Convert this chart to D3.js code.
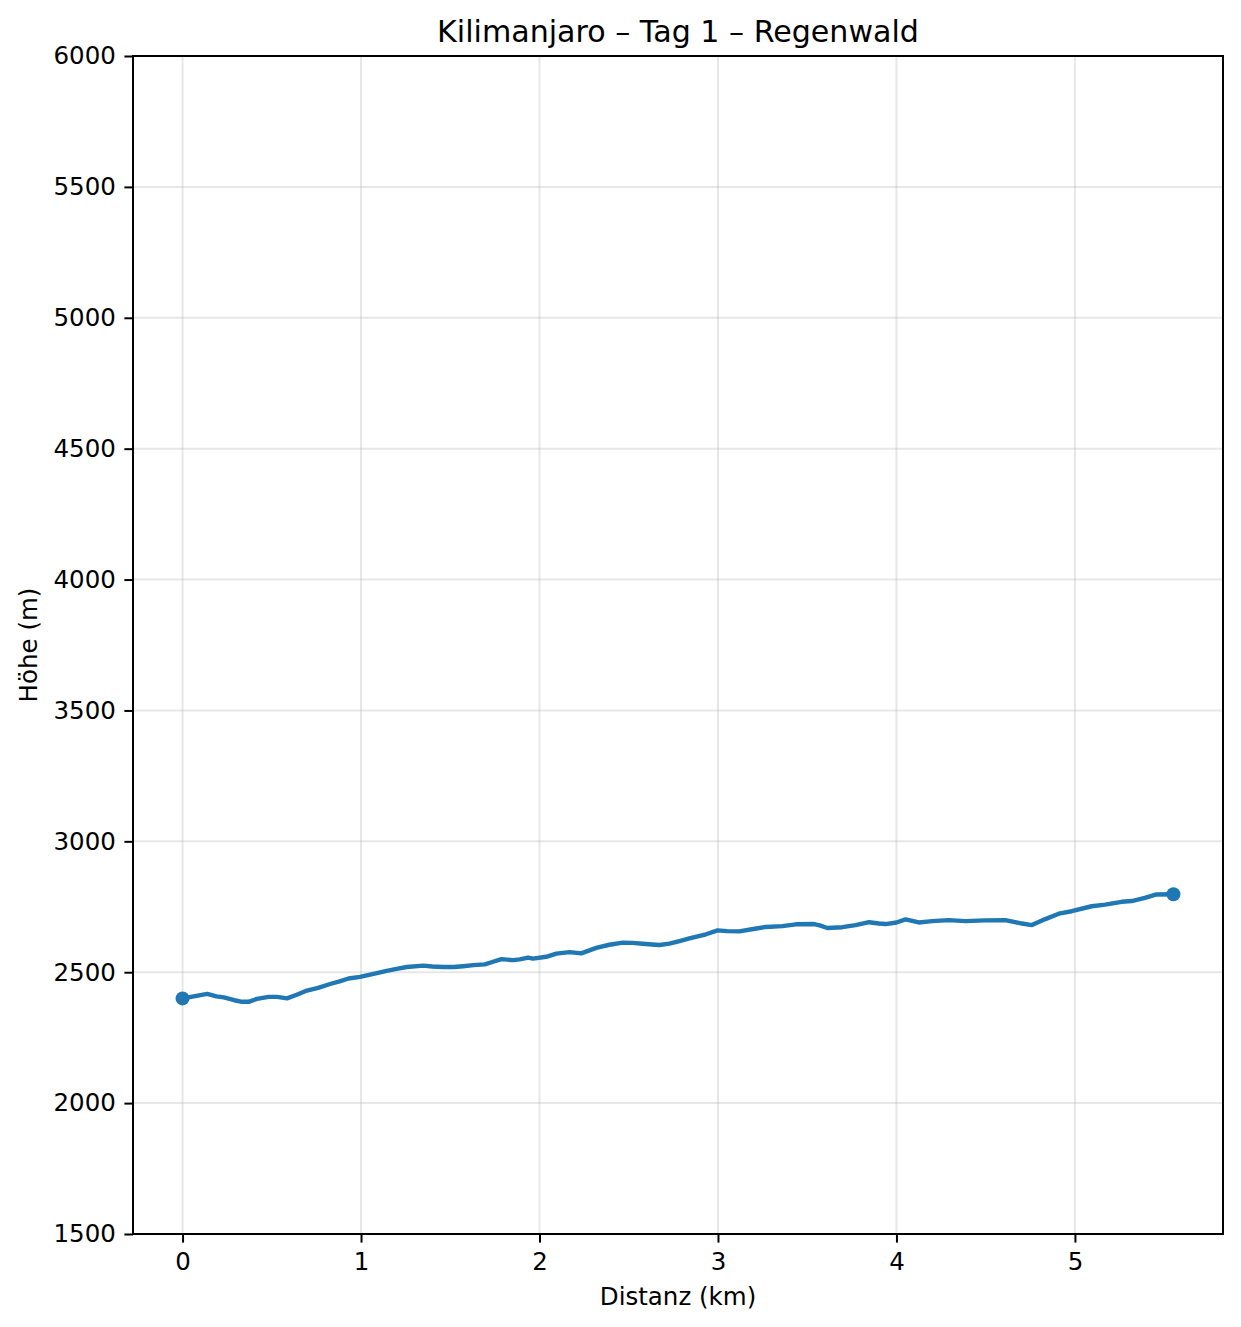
<!DOCTYPE html>
<html>
<head>
<meta charset="utf-8">
<script src="https://cdn.jsdelivr.net/npm/d3@7"></script>
<style>
  body { margin: 0; background: #fff; }
  text { font-family: "DejaVu Sans", sans-serif; fill: #000; }
</style>
</head>
<body>
<div id="chart"></div>
<script>
// distance along the trail (km) and elevation (m)
var distKm = [0.000, 0.070, 0.138, 0.190, 0.231, 0.290, 0.334, 0.370, 0.417, 0.482,
    0.530, 0.585, 0.640, 0.697, 0.760, 0.827, 0.880, 0.930, 0.995, 1.070,
    1.144, 1.200, 1.256, 1.349, 1.400, 1.460, 1.520, 1.572, 1.630, 1.694,
    1.740, 1.787, 1.852, 1.889, 1.936, 1.964, 2.038, 2.094, 2.169, 2.234,
    2.318, 2.392, 2.467, 2.520, 2.579, 2.630, 2.672, 2.728, 2.790, 2.840,
    2.933, 2.998, 3.050, 3.119, 3.190, 3.268, 3.361, 3.436, 3.538, 3.570,
    3.613, 3.697, 3.771, 3.846, 3.902, 3.939, 4.000, 4.051, 4.125, 4.200,
    4.293, 4.386, 4.498, 4.610, 4.703, 4.759, 4.834, 4.917, 4.982, 5.094,
    5.169, 5.262, 5.318, 5.392, 5.457, 5.552];
var elevM = [2400, 2409, 2417, 2408, 2404, 2393, 2387, 2387, 2398, 2406,
    2406, 2400, 2414, 2430, 2440, 2455, 2465, 2476, 2482, 2494,
    2505, 2513, 2520, 2525, 2522, 2520, 2520, 2523, 2527, 2530,
    2540, 2550, 2546, 2549, 2556, 2552, 2559, 2571, 2577, 2572,
    2593, 2605, 2613, 2612, 2609, 2606, 2604, 2609, 2620, 2629,
    2645, 2660, 2657, 2656, 2664, 2673, 2676, 2683, 2684, 2679,
    2669, 2672, 2680, 2691, 2686, 2684, 2690, 2702, 2690, 2695,
    2699, 2695, 2698, 2699, 2686, 2680, 2703, 2725, 2733, 2752,
    2758, 2769, 2772, 2784, 2797, 2798];
var xTicks = [0, 1, 2, 3, 4, 5];
var yTicks = [1500, 2000, 2500, 3000, 3500, 4000, 4500, 5000, 5500, 6000];

var chartTitle = "Kilimanjaro \u2013 Tag 1 \u2013 Regenwald";
var xLabel = "Distanz (km)";
var yLabel = "H\u00f6he (m)";

var svgWidth = 1241;
var svgHeight = 1327;
var margin = { top: 56, right: 18, bottom: 93, left: 133 };
var width = svgWidth - margin.left - margin.right;
var height = svgHeight - margin.top - margin.bottom;

var points = distKm.map(function(d, i) { return { km: d, elev: elevM[i] }; });

var svg = d3.select("#chart")
    .append("svg")
    .attr("width", svgWidth)
    .attr("height", svgHeight);

var chartGroup = svg.append("g")
    .attr("transform", `translate(${margin.left}, ${margin.top})`);

// matplotlib-like 5% margin on x
var xMax = d3.max(distKm);
var pad = xMax * 0.05;
var xScale = d3.scaleLinear().domain([-pad, xMax + pad]).range([0, width]);
var yScale = d3.scaleLinear().domain([1500, 6000]).range([height, 0]);

// grid
chartGroup.append("g")
    .selectAll("line.vgrid")
    .data(xTicks)
    .enter()
    .append("line")
    .attr("x1", d => xScale(d))
    .attr("x2", d => xScale(d))
    .attr("y1", 0)
    .attr("y2", height)
    .attr("stroke", "#b0b0b0")
    .attr("stroke-opacity", 0.3)
    .attr("stroke-width", 2);

chartGroup.append("g")
    .selectAll("line.hgrid")
    .data(yTicks)
    .enter()
    .append("line")
    .attr("x1", 0)
    .attr("x2", width)
    .attr("y1", d => yScale(d))
    .attr("y2", d => yScale(d))
    .attr("stroke", "#b0b0b0")
    .attr("stroke-opacity", 0.3)
    .attr("stroke-width", 2);

// axes
var bottomAxis = d3.axisBottom(xScale).tickValues(xTicks).tickSize(8.6).tickPadding(10.5).tickFormat(d3.format("d"));
var leftAxis = d3.axisLeft(yScale).tickValues(yTicks).tickSize(8.6).tickPadding(8.6).tickFormat(d3.format("d"));

var xAxisG = chartGroup.append("g")
    .attr("transform", `translate(0, ${height})`)
    .call(bottomAxis);
var yAxisG = chartGroup.append("g")
    .call(leftAxis);

[xAxisG, yAxisG].forEach(function(g) {
    g.select(".domain").remove();
    g.selectAll(".tick line").attr("stroke", "#000").attr("stroke-width", 2);
    g.selectAll(".tick text")
        .style("font-family", "DejaVu Sans, sans-serif")
        .style("font-size", "24.5px")
        .attr("fill", "#000");
});

// line
var line = d3.line()
    .x(d => xScale(d.km))
    .y(d => yScale(d.elev));

chartGroup.append("path")
    .datum(points)
    .attr("d", line)
    .attr("fill", "none")
    .attr("stroke", "#1f77b4")
    .attr("stroke-width", 4.4)
    .attr("stroke-linejoin", "round")
    .attr("stroke-linecap", "square");

// start and end markers
chartGroup.selectAll("circle")
    .data([points[0], points[points.length - 1]])
    .enter()
    .append("circle")
    .attr("cx", d => xScale(d.km))
    .attr("cy", d => yScale(d.elev))
    .attr("r", 7)
    .attr("fill", "#1f77b4");

// frame
chartGroup.append("rect")
    .attr("x", 0)
    .attr("y", 0)
    .attr("width", width)
    .attr("height", height)
    .attr("fill", "none")
    .attr("stroke", "#000")
    .attr("stroke-width", 2);

// title and labels
svg.append("text")
    .attr("x", margin.left + width / 2)
    .attr("y", 42)
    .attr("text-anchor", "middle")
    .style("font-size", "30.1px")
    .text(chartTitle);

svg.append("text")
    .attr("x", margin.left + width / 2)
    .attr("y", 1305)
    .attr("text-anchor", "middle")
    .style("font-size", "24.5px")
    .text(xLabel);

svg.append("text")
    .attr("transform", `translate(37, ${margin.top + height / 2}) rotate(-90)`)
    .attr("text-anchor", "middle")
    .style("font-size", "24.5px")
    .text(yLabel);
</script>
</body>
</html>
